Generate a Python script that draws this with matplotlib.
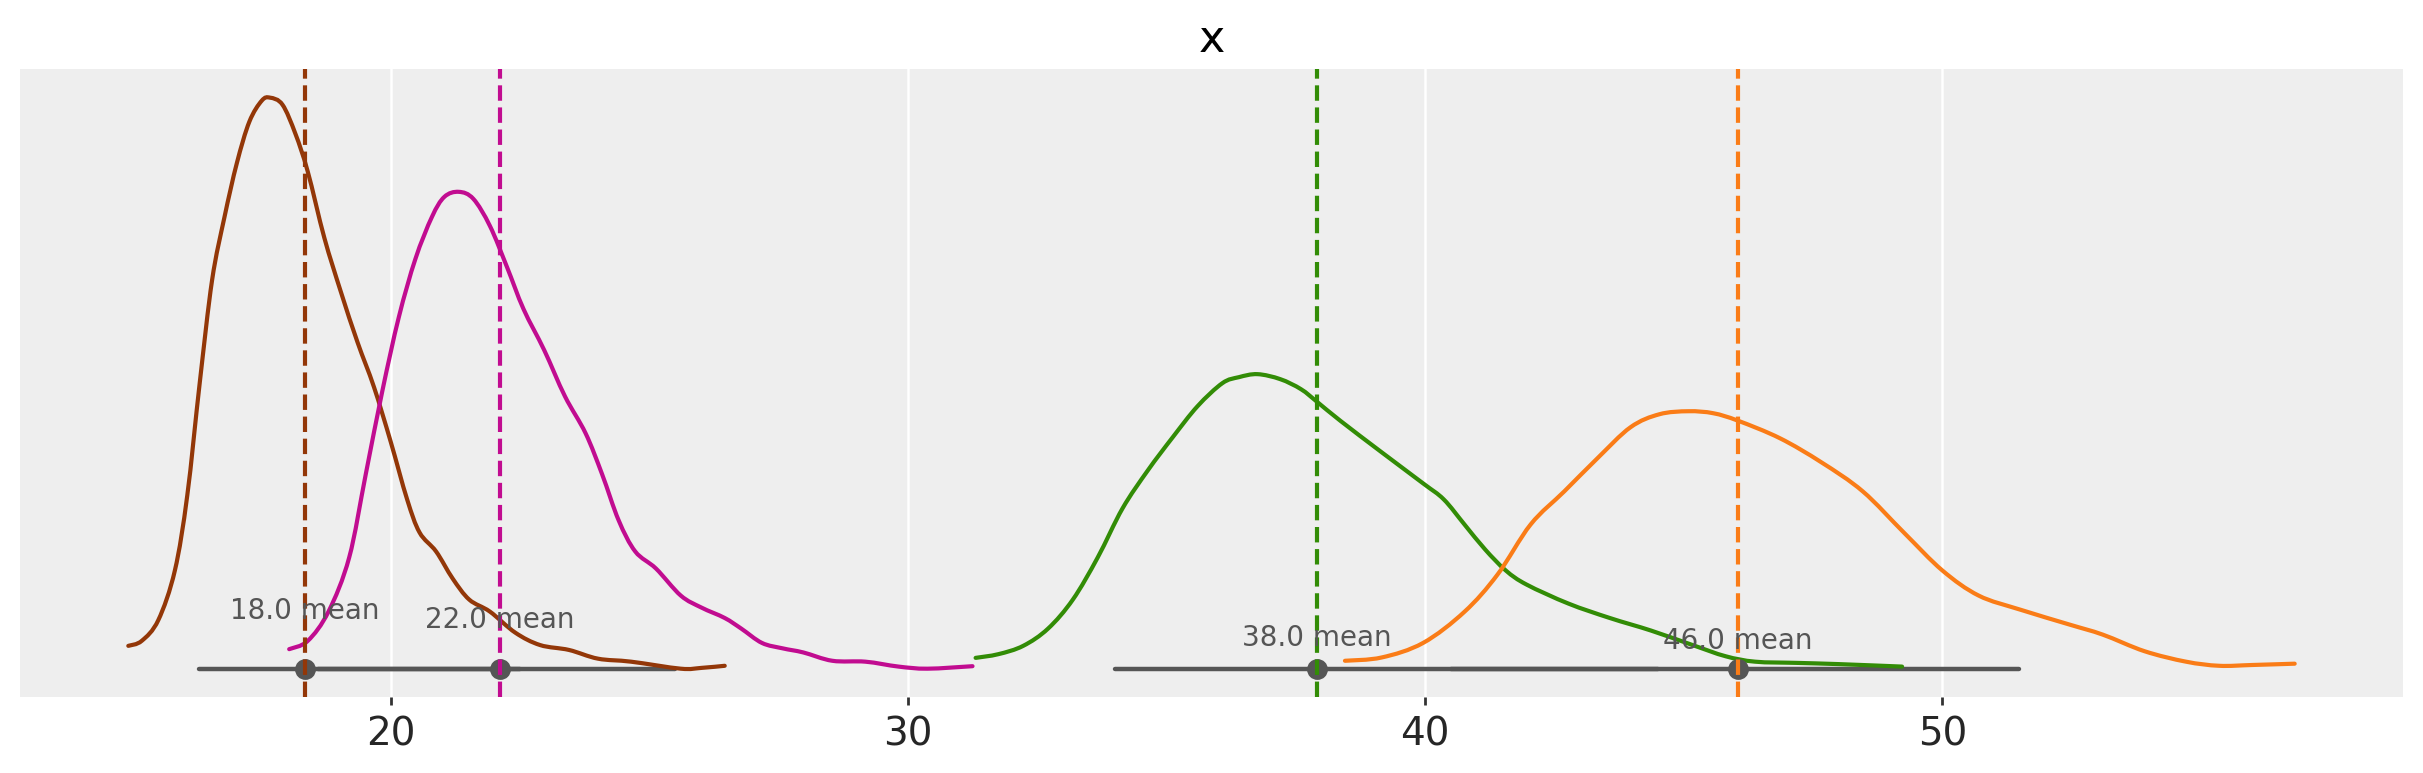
import matplotlib
matplotlib.use("Agg")
import matplotlib.pyplot as plt
from matplotlib.path import Path
from matplotlib.patches import PathPatch

# ---------------- data ----------------
title = "x"
colors = ["#933708", "#c10c90", "#328c06", "#fa7c17"]
labels = ["18.0 mean", "22.0 mean", "38.0 mean", "46.0 mean"]
means = [18.35, 22.12, 37.91, 46.04]
label_y = [58, 48.5, 30.7, 28]            # in px-height units (scaled below)
hdi_low = [16.29, 18.60, 34.01, 40.50]
hdi_high = [22.50, 25.50, 44.50, 51.48]

brown_x = [14.93, 15.19, 15.51, 15.83, 16.07, 16.31, 16.55, 16.79, 17.03, 17.27,
           17.51, 17.67, 17.91, 18.16, 18.40, 18.72, 19.04, 19.36, 19.68, 20.00,
           20.32, 20.56, 20.88, 21.20, 21.52, 21.92, 22.41, 22.89, 23.45, 24.01,
           24.65, 25.61, 26.01, 26.46]
brown_h = [22.8, 27.8, 48.5, 98, 173, 285, 388, 451, 505, 546,
           567, 570, 563, 534, 496, 430, 376, 326, 281, 227,
           169, 136, 117, 90, 69, 57, 36, 23.6, 18.7, 10,
           7, 0, 0.8, 2.9]

magenta_x = [18.04, 18.40, 18.80, 19.20, 19.52, 19.84, 20.16, 20.48, 20.80, 21.04,
             21.32, 21.60, 21.92, 22.25, 22.57, 22.97, 23.37, 23.77, 24.09, 24.41,
             24.73, 25.13, 25.61, 26.01, 26.46, 26.78, 27.18, 27.58, 27.98, 28.54,
             29.18, 29.82, 30.38, 31.25]
magenta_h = [19.5, 27.8, 57, 111, 194, 277, 351, 409, 451, 471,
             476, 469, 442, 401, 359, 318, 272, 235, 194, 148,
             117, 100, 73, 61, 50.6, 40, 25.7, 20.3, 16.2, 7.9,
             7.0, 2.1, 0, 2.5]

green_x = [31.31, 31.75, 32.23, 32.71, 33.19, 33.67, 34.15, 34.64, 35.12, 35.60,
           36.08, 36.40, 36.76, 37.20, 37.60, 37.92, 38.36, 39.16, 39.96, 40.36,
           40.76, 41.16, 41.56, 41.96, 42.77, 43.57, 44.37, 45.17, 45.81, 46.38,
           47.18, 47.98, 49.22]
green_h = [10.8, 14.5, 22.8, 40, 69, 111, 160, 198, 231, 262,
           285, 291, 294, 289, 279, 266, 247.5, 216, 185, 169,
           144, 119, 98, 84, 65, 50.6, 38, 23.6, 12.4, 7,
           5.8, 4.6, 2.1]

orange_x = [38.45, 39.16, 39.96, 40.76, 41.40, 42.04, 42.69, 43.33, 43.97, 44.53,
            45.09, 45.57, 46.05, 46.86, 47.66, 48.46, 49.26, 50.00, 50.70, 51.50,
            52.46, 53.10, 53.91, 54.71, 55.35, 55.99, 56.81]
orange_h = [7.9, 11.2, 25.7, 56.8, 94, 144, 177, 210, 241, 254,
            257, 255, 247.5, 230, 206, 177, 135.6, 98, 73, 59,
            44, 34, 17.4, 7, 2.9, 3.7, 5]

SCALE = 2600.0  # px-height -> density
curves_x = [brown_x, magenta_x, green_x, orange_x]
curves_y = [[v / SCALE for v in h] for h in (brown_h, magenta_h, green_h, orange_h)]


def smooth_path(xs, ys):
    """Catmull-Rom curve through the given points, as cubic Bezier segments."""
    verts = [(xs[0], ys[0])]
    codes = [Path.MOVETO]
    n = len(xs)
    for i in range(n - 1):
        x0, y0 = (xs[i - 1], ys[i - 1]) if i > 0 else (xs[i], ys[i])
        x1, y1 = xs[i], ys[i]
        x2, y2 = xs[i + 1], ys[i + 1]
        x3, y3 = (xs[i + 2], ys[i + 2]) if i + 2 < n else (x2, y2)
        c1 = (x1 + (x2 - x0) / 6.0, y1 + (y2 - y0) / 6.0)
        c2 = (x2 - (x3 - x1) / 6.0, y2 - (y3 - y1) / 6.0)
        verts += [c1, c2, (x2, y2)]
        codes += [Path.CURVE4] * 3
    return Path(verts, codes)


# ---------------- plot ----------------
fig = plt.figure(figsize=(12.115, 3.865), dpi=200)
ax = fig.add_axes([0.00825, 0.098, 0.9835, 0.8126])
ax.set_facecolor("#eeeeee")
for s in ax.spines.values():
    s.set_visible(False)
ax.grid(True, axis="x", color="white", linewidth=0.9)
ax.set_axisbelow(True)

for cx, cy, c in zip(curves_x, curves_y, colors):
    ax.add_patch(PathPatch(smooth_path(cx, cy), facecolor="none", edgecolor=c,
                           linewidth=1.5, capstyle="round", zorder=3))

for lo, hi in zip(hdi_low, hdi_high):
    ax.plot([lo, hi], [0, 0], color="#555555", linewidth=1.6, solid_capstyle="round", zorder=2)

for m, c, lab, ly in zip(means, colors, labels, label_y):
    ax.plot([m], [0], marker="o", markersize=6.5, color="#555555", zorder=4)
    ax.axvline(m, color=c, linestyle="--", linewidth=1.5, zorder=5)
    ax.text(m, ly / SCALE, lab, ha="center", va="center", fontsize=10, color="#555555", zorder=6)

# limits from data with 5% margins
all_x = [v for cx in curves_x for v in cx]
all_y = [v for cy in curves_y for v in cy] + [0.0]
xr = max(all_x) - min(all_x)
yr = max(all_y) - min(all_y)
ax.set_xlim(min(all_x) - 0.05 * xr, max(all_x) + 0.05 * xr)
ax.set_ylim(min(all_y) - 0.05 * yr, max(all_y) + 0.05 * yr)

ax.set_yticks([])
ax.tick_params(axis="x", labelsize=14, length=3, width=1, color="#333333", labelcolor="#262626")
ax.set_title(title, fontsize=16, color="black")

fig.savefig("out.png", dpi=200)
